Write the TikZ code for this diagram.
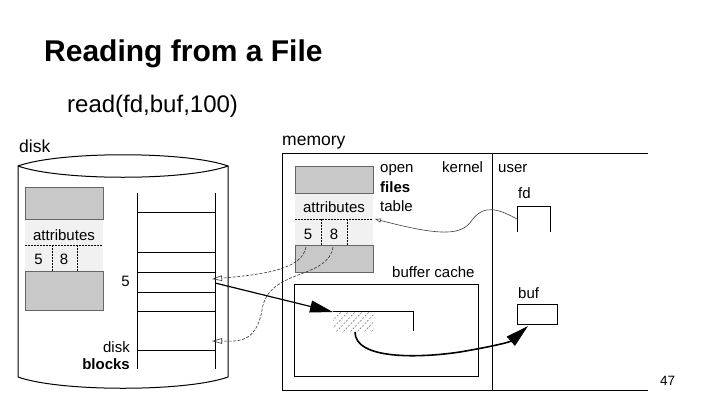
\documentclass[tikz,border=0pt]{standalone}
\usepackage{fontspec}
\setmainfont{Liberation Sans}
\usetikzlibrary{arrows.meta}
\definecolor{boxgray}{RGB}{200,200,200}
\definecolor{rowgray}{RGB}{241,241,241}
\begin{document}
\begin{tikzpicture}[x=1pt,y=-1pt,
  lbl/.style={inner sep=0pt, font=\fontsize{15}{16}\selectfont, anchor=base west},
  biglbl/.style={inner sep=0pt, font=\fontsize{17.5}{19}\selectfont, anchor=base west},
  solidline/.style={line width=1pt, black},
  grayblock/.style={fill=boxgray, draw=black!60, line width=0.6pt},
  lightrow/.style={fill=rowgray, draw=none},
  dotline/.style={line width=0.7pt, dash pattern=on 1.5pt off 1.5pt},
  ptr/.style={line width=0.6pt, dash pattern=on 3pt off 1.5pt, black!80,
     -{Triangle[open,length=10pt,width=5.5pt,line width=0.6pt]}},
  fdptr/.style={line width=0.6pt, black!75,
     -{Triangle[open,length=6pt,width=4pt,line width=0.6pt]}},
  bigarrow/.style={line width=1.2pt, -{Triangle[length=23pt,width=12pt]}},
]
\useasboundingbox (0,0) rectangle (720,405);
\fill[white] (0,0) rectangle (720,405);

% title
\node[inner sep=0pt, anchor=base west, font=\fontsize{30}{32}\selectfont\bfseries] (title) at (44,61) {Reading from a File};
\node[inner sep=0pt, anchor=base west, font=\fontsize{24}{26}\selectfont] (call) at (67,112) {read(fd,buf,100)};

% ---------------- disk ----------------
\node[biglbl] (disklbl) at (19,152) {disk};
\draw[solidline] (18,377) -- (18,166)
   .. controls (60,151) and (186,151) .. (228,166) -- (228,377);
\draw[solidline] (18,166) .. controls (60,181) and (186,181) .. (228,166);
\draw[solidline] (18,377) .. controls (60,392) and (186,392) .. (228,377);

% disk inode table
\fill[lightrow] (25,219) rectangle (103,271);
\draw[grayblock] (25,187) rectangle (103,219);
\draw[grayblock] (25,271) rectangle (103,310);
\draw[dotline] (25,245) -- (103,245);
\draw[dotline] (52,245) -- (52,271);
\draw[dotline] (77,245) -- (77,271);
\node[lbl, anchor=base] (dattr) at (64,240) {attributes};
\node[lbl, anchor=base] (dfive) at (38.5,264) {5};
\node[lbl, anchor=base] (deight) at (64,264) {8};

% disk blocks
\draw[solidline] (137,193) -- (137,369);
\draw[solidline] (215,193) -- (215,369);
\foreach \yy in {212,252,272,292,311,350}
  \draw[solidline] (137,\yy) -- (215,\yy);
\node[lbl, anchor=base east] (blk5lbl) at (130,286) {5};
\node[lbl, anchor=base east] (disktxt) at (130,352) {disk};
\node[lbl, anchor=base east, font=\fontsize{15}{16}\selectfont\bfseries] (blockstxt) at (130,369) {blocks};
\coordinate (blk5) at (212,279);
\coordinate (blk8) at (212,341);
\coordinate (blk5out) at (215,283);

% ---------------- memory ----------------
\node[biglbl] (memlbl) at (282,145) {memory};
\draw[solidline] (648,153) -- (282,153) -- (282,390) -- (648,390);
\draw[solidline] (492,153) -- (492,390);

% open file table
\fill[lightrow] (295,193) rectangle (373,245);
\draw[grayblock] (295,166) rectangle (373,193);
\draw[grayblock] (295,245) rectangle (373,272);
\draw[dotline] (295,219) -- (373,219);
\draw[dotline] (321,219) -- (321,245);
\draw[dotline] (347,219) -- (347,245);
\node[lbl, anchor=base] (mattr) at (334,212) {attributes};
\node[lbl, anchor=base] (mfive) at (308,239) {5};
\node[lbl, anchor=base] (meight) at (334,239) {8};
\coordinate (mattrend) at (375,219);

\node[lbl] (openlbl) at (380,172) {open};
\node[lbl, font=\fontsize{15}{16}\selectfont\bfseries] (fileslbl) at (380,192) {files};
\node[lbl] (tablelbl) at (380,211) {table};
\node[lbl] (kernellbl) at (442,172) {kernel};
\node[lbl] (userlbl) at (498,172) {user};

% buffer cache
\node[lbl] (bclbl) at (392,277) {buffer cache};
\draw[solidline] (294,284) rectangle (478,376);
\draw[solidline] (333,311) -- (413,311) -- (413,331);
\begin{scope}
  \clip (333,312) rectangle (374,331);
  \foreach \xx in {320,327,...,380}
    \draw[line width=0.45pt, black!60, dash pattern=on 2pt off 1.5pt] (\xx,334) -- (\xx+24,309);
\end{scope}
\coordinate (hatchtop) at (333,312);
\coordinate (hatchbot) at (355,332);

% user space
\node[lbl] (fdlbl) at (518,198) {fd};
\draw[solidline] (517,232) -- (517,206) -- (550,206) -- (550,232);
\coordinate (fdbox) at (517,219);
\node[lbl] (buflbl) at (518,298) {buf};
\node[draw, line width=1pt, minimum width=40pt, minimum height=20pt, inner sep=0pt, anchor=north west] (bufbox) at (517,304) {};
\coordinate (bufin) at (528,326);

% page number
\node[inner sep=0pt, anchor=base west, font=\fontsize{13.5}{15}\selectfont] (pagenum) at (660,385) {47};

% ---------------- connectors ----------------
\draw[fdptr] (fdbox) .. controls (500,210) and (485,203) .. (472,220)
   .. controls (462,236) and (440,236) .. (mattrend);
\draw[ptr] (306,247) .. controls (302,268) and (270,274) .. (blk5);
\draw[ptr] (333,247) .. controls (328,280) and (268,268) .. (262,310)
   .. controls (256,345) and (235,341) .. (blk8);
\draw[bigarrow] (blk5out) -- (hatchtop);
\draw[bigarrow, line width=1.6pt] (hatchbot) .. controls (355,360) and (420,358) .. (460,352)
   .. controls (495,346) and (510,342) .. (bufin);
\end{tikzpicture}
\end{document}
